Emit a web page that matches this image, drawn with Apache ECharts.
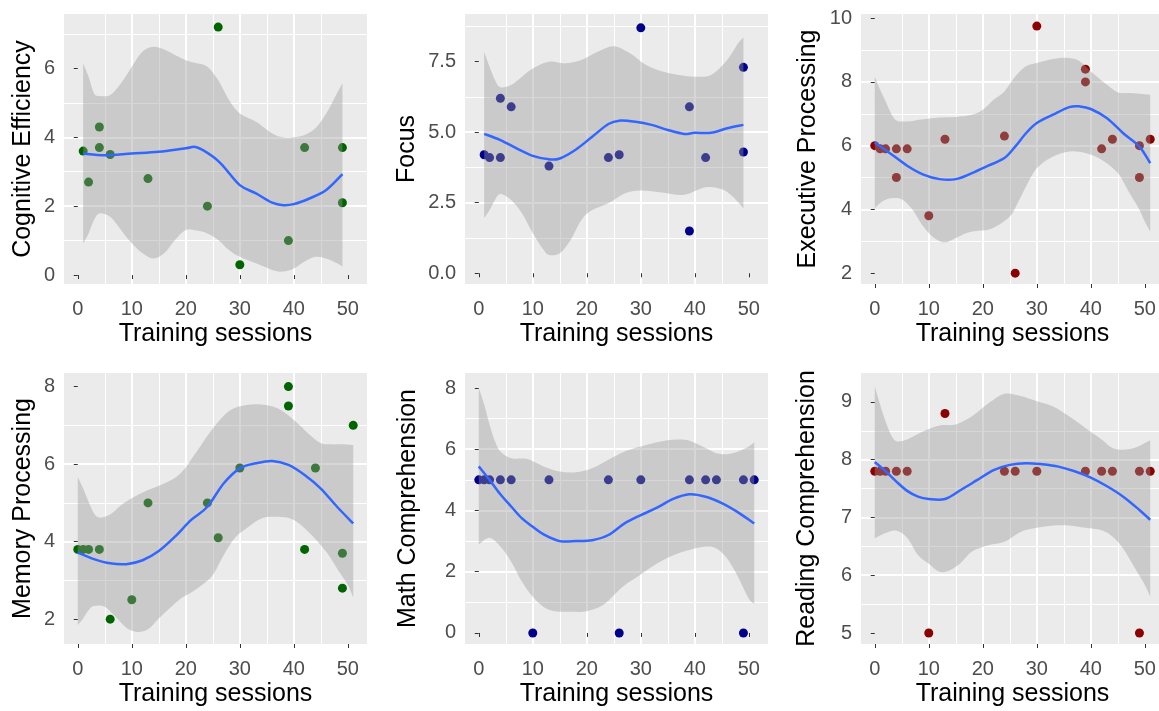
<!DOCTYPE html>
<html><head><meta charset="utf-8">
<script src="https://cdn.jsdelivr.net/npm/echarts@6/dist/echarts.min.js"></script>
<style>html,body{margin:0;padding:0;background:#fff}#c{width:1159px;height:711px}</style>
</head><body><div id="c"></div>
<script>
// ---------- shared ----------
const xTickValues = [0, 10, 20, 30, 40, 50];
const xTitle = 'Training sessions';

// ---------- Panel 1: Cognitive Efficiency ----------
const ceX = [1, 2, 4, 4, 6, 13, 24, 26, 30, 39, 42, 49, 49];
const ceY = [3.6, 2.7, 4.3, 3.7, 3.5, 2.8, 2.0, 7.2, 0.3, 1.0, 3.7, 3.7, 2.1];
const ceFitX = [1, 5, 10, 15, 20, 22, 25, 27, 30, 33, 36, 38, 40, 43, 46, 49];
const ceFit = [3.53, 3.48, 3.53, 3.58, 3.68, 3.71, 3.44, 3.15, 2.61, 2.37, 2.10, 2.03, 2.06, 2.23, 2.47, 2.93];
const ceUpX = [1, 2, 3, 4, 6, 8, 10, 12, 14, 16, 18, 20, 22, 24, 26, 28, 30, 33, 36, 38, 40, 42, 44, 46, 48, 49];
const ceUp = [6.15, 5.76, 5.28, 5.2, 5.23, 5.57, 6.05, 6.49, 6.63, 6.55, 6.39, 6.24, 6.15, 6.05, 5.66, 5.08, 4.69, 4.45, 4.11, 4.0, 4.0, 4.07, 4.26, 4.69, 5.28, 5.57];
const ceLoX = ceUpX;
const ceLo = [0.92, 1.21, 1.6, 1.79, 1.69, 1.31, 0.92, 0.63, 0.48, 0.63, 1.02, 1.31, 1.29, 1.21, 1.02, 0.73, 0.53, 0.34, 0.15, 0.1, 0.19, 0.39, 0.53, 0.48, 0.34, 0.24];
const ceTicks = [0, 2, 4, 6];

// ---------- Panel 2: Focus ----------
const foX = [1, 2, 4, 4, 6, 13, 24, 26, 30, 39, 39, 42, 49, 49];
const foY = [4.2, 4.1, 6.2, 4.1, 5.9, 3.8, 4.1, 4.2, 8.7, 5.9, 1.5, 4.1, 7.3, 4.3];
const foFitX = [1, 4, 7, 10, 13, 15, 18, 21, 24, 26, 29, 32, 35, 38, 40, 43, 46, 49];
const foFit = [4.94, 4.72, 4.43, 4.16, 4.04, 4.07, 4.39, 4.84, 5.29, 5.41, 5.37, 5.26, 5.08, 4.94, 4.98, 4.98, 5.14, 5.26];
const foUpX = [1, 2, 3, 4, 6, 8, 10, 13, 16, 19, 22, 25, 28, 31, 34, 37, 40, 43, 46, 48, 49];
const foUp = [7.85, 7.32, 6.85, 6.59, 6.67, 6.97, 7.26, 7.5, 7.44, 7.56, 7.85, 8.05, 7.8, 7.38, 7.15, 7.03, 6.97, 7.03, 7.56, 8.15, 8.36];
const foLoX = [1, 2, 3, 4, 6, 8, 10, 12, 13, 15, 17, 19, 21, 24, 27, 30, 34, 38, 42, 45, 47, 49];
const foLo = [1.95, 2.24, 2.6, 2.81, 2.6, 2.13, 1.42, 0.83, 0.65, 0.71, 1.18, 1.89, 2.24, 2.48, 2.83, 2.93, 2.86, 2.78, 3.05, 2.98, 2.72, 2.3];
const foTicks = [0, 2.5, 5, 7.5];

// ---------- Panel 3: Executive Processing ----------
const epX = [0, 1, 2, 4, 4, 6, 10, 13, 24, 26, 30, 39, 39, 42, 44, 49, 49, 51];
const epY = [6.0, 5.9, 5.9, 5.9, 5.0, 5.9, 3.8, 6.2, 6.3, 2.0, 9.75, 8.4, 8.0, 5.9, 6.2, 6.0, 5.0, 6.2];
const epFitX = [0, 3, 6, 9, 12, 15, 18, 21, 24, 26, 28, 30, 33, 36, 38, 40, 43, 46, 49, 51];
const epFit = [6.1, 5.74, 5.37, 5.09, 4.95, 4.95, 5.14, 5.37, 5.61, 5.97, 6.39, 6.71, 6.97, 7.21, 7.23, 7.15, 6.86, 6.39, 5.97, 5.45];
const epUpX = [0, 1, 2, 3, 4, 6, 9, 12, 15, 18, 20, 22, 24, 26, 28, 30, 33, 36, 38, 40, 43, 45, 47, 49, 51];
const epUp = [8.17, 7.75, 7.39, 7.02, 6.79, 6.76, 6.83, 6.88, 6.9, 6.97, 7.13, 7.44, 7.7, 8.17, 8.49, 8.59, 8.72, 8.75, 8.64, 8.33, 7.91, 7.67, 7.65, 7.63, 7.6];
const epLoX = [0, 1, 2, 3, 5, 7, 9, 11, 13, 15, 17, 19, 21, 23, 25, 26, 28, 30, 33, 36, 39, 42, 45, 47, 49, 50, 51];
const epLo = [4.04, 4.2, 4.3, 4.35, 4.32, 3.99, 3.46, 3.1, 2.96, 3.1, 3.26, 3.33, 3.36, 3.52, 3.78, 4.04, 4.72, 5.29, 5.66, 5.82, 5.77, 5.56, 5.14, 4.56, 3.99, 3.62, 3.31];
const epTicks = [2, 4, 6, 8, 10];

// ---------- Panel 4: Memory Processing ----------
const mpX = [0, 1, 2, 4, 6, 10, 13, 24, 26, 30, 39, 39, 42, 44, 49, 49, 51];
const mpY = [3.8, 3.8, 3.8, 3.8, 2.0, 2.5, 5.0, 5.0, 4.1, 5.9, 8.0, 7.5, 3.8, 5.9, 3.7, 2.8, 7.0];
const mpFitX = [0, 3, 6, 9, 12, 15, 18, 21, 24, 27, 30, 33, 36, 39, 42, 45, 48, 51];
const mpFit = [3.72, 3.55, 3.44, 3.42, 3.52, 3.76, 4.13, 4.56, 4.9, 5.5, 5.89, 6.02, 6.08, 5.98, 5.72, 5.37, 4.9, 4.47];
const mpUpX = [0, 1, 2, 3, 4, 6, 8, 10, 13, 16, 19, 22, 25, 28, 31, 34, 37, 40, 43, 45, 47, 49, 51];
const mpUp = [5.67, 5.37, 5.03, 4.73, 4.62, 4.7, 4.94, 5.12, 5.33, 5.5, 5.76, 6.32, 6.92, 7.37, 7.52, 7.54, 7.44, 7.14, 6.75, 6.54, 6.51, 6.51, 6.49];
const mpLoX = [0, 1, 2, 3, 5, 7, 9, 11, 13, 15, 17, 19, 21, 23, 25, 27, 29, 31, 34, 37, 40, 43, 46, 48, 50, 51];
const mpLo = [1.85, 2.02, 2.23, 2.34, 2.32, 2.06, 1.78, 1.67, 1.74, 2.02, 2.28, 2.53, 2.69, 2.88, 3.14, 3.65, 4.08, 4.32, 4.6, 4.64, 4.56, 4.21, 3.74, 3.31, 2.88, 2.55];
const mpTicks = [2, 4, 6, 8];

// ---------- Panel 5: Math Comprehension ----------
const mcX = [0, 1, 2, 4, 6, 10, 13, 24, 26, 30, 39, 42, 44, 49, 49, 51];
const mcY = [5, 5, 5, 5, 5, 0, 5, 5, 0, 5, 5, 5, 5, 5, 0, 5];
const mcFitX = [0, 2, 4, 6, 8, 10, 12, 15, 18, 21, 24, 27, 30, 33, 36, 39, 42, 45, 48, 51];
const mcFit = [5.44, 5.0, 4.53, 4.13, 3.74, 3.47, 3.22, 3.0, 3.0, 3.03, 3.2, 3.58, 3.85, 4.09, 4.38, 4.53, 4.45, 4.24, 3.94, 3.58];
const mcUpX = [0, 1, 2, 3, 4, 6, 9, 12, 15, 18, 21, 24, 27, 30, 33, 36, 39, 42, 44, 46, 48, 50, 51];
const mcUp = [8.0, 7.46, 6.8, 6.26, 5.93, 5.71, 5.68, 5.44, 5.27, 5.25, 5.38, 5.66, 5.93, 6.09, 6.23, 6.31, 6.28, 6.04, 5.87, 5.84, 5.93, 6.09, 6.23];
const mcLoX = [0, 2, 4, 6, 8, 10, 12, 14, 17, 20, 23, 25, 27, 30, 33, 36, 39, 42, 44, 46, 48, 50, 51];
const mcLo = [2.89, 3.11, 2.82, 2.33, 1.67, 1.18, 0.85, 0.71, 0.69, 0.71, 0.91, 1.23, 1.56, 1.91, 2.27, 2.54, 2.71, 2.82, 2.76, 2.43, 1.83, 1.12, 0.96];
const mcTicks = [0, 2, 4, 6, 8];

// ---------- Panel 6: Reading Comprehension ----------
const rcX = [0, 1, 2, 4, 6, 10, 13, 24, 26, 30, 39, 42, 44, 49, 49, 51];
const rcY = [7.8, 7.8, 7.8, 7.8, 7.8, 5, 8.8, 7.8, 7.8, 7.8, 7.8, 7.8, 7.8, 7.8, 5, 7.8];
const rcFitX = [0, 2, 4, 6, 8, 10, 13, 16, 19, 22, 25, 28, 31, 34, 37, 40, 43, 46, 49, 51];
const rcFit = [7.96, 7.8, 7.62, 7.46, 7.36, 7.32, 7.32, 7.48, 7.65, 7.82, 7.91, 7.94, 7.92, 7.88, 7.8, 7.69, 7.54, 7.36, 7.13, 6.96];
const rcUpX = [0, 1, 2, 3, 4, 6, 9, 12, 15, 18, 21, 24, 27, 30, 33, 36, 39, 42, 44, 46, 48, 50, 51];
const rcUp = [9.27, 8.95, 8.66, 8.43, 8.32, 8.35, 8.49, 8.59, 8.61, 8.75, 8.97, 9.14, 9.1, 9.01, 8.92, 8.75, 8.55, 8.35, 8.2, 8.17, 8.2, 8.29, 8.33];
const rcLoX = [0, 2, 4, 6, 8, 10, 12, 14, 16, 18, 21, 24, 27, 30, 33, 36, 39, 42, 44, 46, 48, 50, 51];
const rcLo = [6.64, 6.73, 6.77, 6.65, 6.35, 6.2, 6.06, 6.09, 6.22, 6.41, 6.52, 6.58, 6.75, 6.82, 6.86, 6.86, 6.82, 6.78, 6.67, 6.46, 6.15, 5.83, 5.63];
const rcTicks = [5, 6, 7, 8, 9];

// ---------- panel configuration (layout / style) ----------
const GREEN = '#006400', BLUE = '#00008B', RED = '#8B0000';
const panels = [
  {title: 'Cognitive Efficiency', px: ceX, py: ceY, fx: ceFitX, fy: ceFit, ux: ceUpX, uy: ceUp, lx: ceLoX, ly: ceLo, ticks: ceTicks, step: 2, ymin: -0.26, ymax: 7.58, color: GREEN, grid: {left: 64, top: 14, width: 303, height: 270}, gap: 28, dec: 0},
  {title: 'Focus', px: foX, py: foY, fx: foFitX, fy: foFit, ux: foUpX, uy: foUp, lx: foLoX, ly: foLo, ticks: foTicks, step: 2.5, ymin: -0.38, ymax: 9.19, color: BLUE, grid: {left: 465, top: 14, width: 303, height: 270}, gap: 45, dec: 1},
  {title: 'Executive Processing', px: epX, py: epY, fx: epFitX, fy: epFit, ux: epUpX, uy: epUp, lx: epLoX, ly: epLo, ticks: epTicks, step: 2, ymin: 1.66, ymax: 10.13, color: RED, grid: {left: 861, top: 14, width: 303, height: 270}, gap: 40, dec: 0},
  {title: 'Memory Processing', px: mpX, py: mpY, fx: mpFitX, fy: mpFit, ux: mpUpX, uy: mpUp, lx: mpLoX, ly: mpLo, ticks: mpTicks, step: 2, ymin: 1.36, ymax: 8.35, color: GREEN, grid: {left: 64, top: 373, width: 303, height: 271}, gap: 28, dec: 0},
  {title: 'Math Comprehension', px: mcX, py: mcY, fx: mcFitX, fy: mcFit, ux: mcUpX, uy: mcUp, lx: mcLoX, ly: mcLo, ticks: mcTicks, step: 2, ymin: -0.36, ymax: 8.49, color: BLUE, grid: {left: 465, top: 373, width: 303, height: 271}, gap: 44, dec: 0},
  {title: 'Reading Comprehension', px: rcX, py: rcY, fx: rcFitX, fy: rcFit, ux: rcUpX, uy: rcUp, lx: rcLoX, ly: rcLo, ticks: rcTicks, step: 1, ymin: 4.81, ymax: 9.50, color: RED, grid: {left: 861, top: 373, width: 303, height: 271}, gap: 41, dec: 0}
];

const FONT = '"Liberation Sans", Arial, sans-serif';

// Catmull-Rom spline through already-projected pixel points
function bezierThrough(pts) {
  let s = '';
  for (let i = 0; i < pts.length - 1; i++) {
    const p0 = pts[Math.max(i - 1, 0)], p1 = pts[i], p2 = pts[i + 1], p3 = pts[Math.min(i + 2, pts.length - 1)];
    const c1 = [p1[0] + (p2[0] - p0[0]) / 6, p1[1] + (p2[1] - p0[1]) / 6];
    const c2 = [p2[0] - (p3[0] - p1[0]) / 6, p2[1] - (p3[1] - p1[1]) / 6];
    s += ' C' + c1[0] + ' ' + c1[1] + ' ' + c2[0] + ' ' + c2[1] + ' ' + p2[0] + ' ' + p2[1];
  }
  return s;
}

const grids = [], xAxes = [], yAxes = [], series = [];
panels.forEach((p, i) => {
  grids.push(Object.assign({show: true, backgroundColor: '#EBEBEB', borderWidth: 0, borderColor: 'transparent', containLabel: false, outerBoundsMode: 'none'}, p.grid));
  xAxes.push({
    gridIndex: i, type: 'value', min: -2.55, max: 53.55, splitNumber: 5, minInterval: 10, maxInterval: 10,
    axisLine: {show: false},
    axisTick: {show: true, length: 4, lineStyle: {color: '#333333', width: 1}, customValues: xTickValues},
    axisLabel: {show: true, color: '#4D4D4D', fontSize: 20, fontFamily: FONT, margin: 15, customValues: xTickValues},
    splitLine: {show: true, showMinLine: false, showMaxLine: false, lineStyle: {color: '#FFFFFF', width: 2}},
    minorTick: {show: false, splitNumber: 2},
    minorSplitLine: {show: true, lineStyle: {color: '#FFFFFF', width: 1}},
    name: xTitle, nameLocation: 'middle', nameGap: 38, nameMoveOverlap: false,
    nameTextStyle: {color: '#000000', fontSize: 25, fontFamily: FONT}
  });
  yAxes.push({
    gridIndex: i, type: 'value', min: p.ymin, max: p.ymax, splitNumber: 4, minInterval: p.step, maxInterval: p.step,
    axisLine: {show: false},
    axisTick: {show: true, length: 4, lineStyle: {color: '#333333', width: 1}, customValues: p.ticks},
    axisLabel: {show: true, color: '#4D4D4D', fontSize: 20, fontFamily: FONT, margin: 9, customValues: p.ticks,
      formatter: (v) => Number(v).toFixed(p.dec)},
    splitLine: {show: true, showMinLine: false, showMaxLine: false, lineStyle: {color: '#FFFFFF', width: 2}},
    minorTick: {show: false, splitNumber: 2},
    minorSplitLine: {show: true, lineStyle: {color: '#FFFFFF', width: 1}},
    name: p.title, nameLocation: 'middle', nameGap: p.gap, nameMoveOverlap: false,
    nameTextStyle: {color: '#000000', fontSize: 25, fontFamily: FONT}
  });
  series.push({
    type: 'scatter', xAxisIndex: i, yAxisIndex: i, z: 2, silent: true,
    symbol: 'circle', symbolSize: 9, itemStyle: {color: p.color, opacity: 1},
    data: p.px.map((x, k) => [x, p.py[k]])
  });
  series.push({
    type: 'custom', xAxisIndex: i, yAxisIndex: i, z: 3, silent: true, clip: true,
    data: [[p.ux[0], p.uy[0]]],
    renderItem: function (params, api) {
      const up = p.ux.map((x, k) => api.coord([x, p.uy[k]]));
      const lo = p.lx.map((x, k) => api.coord([x, p.ly[k]])).reverse();
      const d = 'M' + up[0][0] + ' ' + up[0][1] + bezierThrough(up) +
        ' L' + lo[0][0] + ' ' + lo[0][1] + bezierThrough(lo) + ' Z';
      return {type: 'path', shape: {pathData: d}, style: {fill: 'rgba(153,153,153,0.4)', stroke: null}};
    }
  });
  series.push({
    type: 'custom', xAxisIndex: i, yAxisIndex: i, z: 4, silent: true, clip: true,
    data: [[p.fx[0], p.fy[0]]],
    renderItem: function (params, api) {
      const pts = p.fx.map((x, k) => api.coord([x, p.fy[k]]));
      const d = 'M' + pts[0][0] + ' ' + pts[0][1] + bezierThrough(pts);
      return {type: 'path', shape: {pathData: d}, style: {fill: null, stroke: '#3366FF', lineWidth: 2.5, lineJoin: 'round', lineCap: 'butt'}};
    }
  });
});

const chart = echarts.init(document.getElementById('c'), null, {renderer: 'canvas'});
chart.setOption({
  animation: false,
  backgroundColor: '#FFFFFF',
  textStyle: {fontFamily: FONT},
  grid: grids, xAxis: xAxes, yAxis: yAxes, series: series
});
</script></body></html>
